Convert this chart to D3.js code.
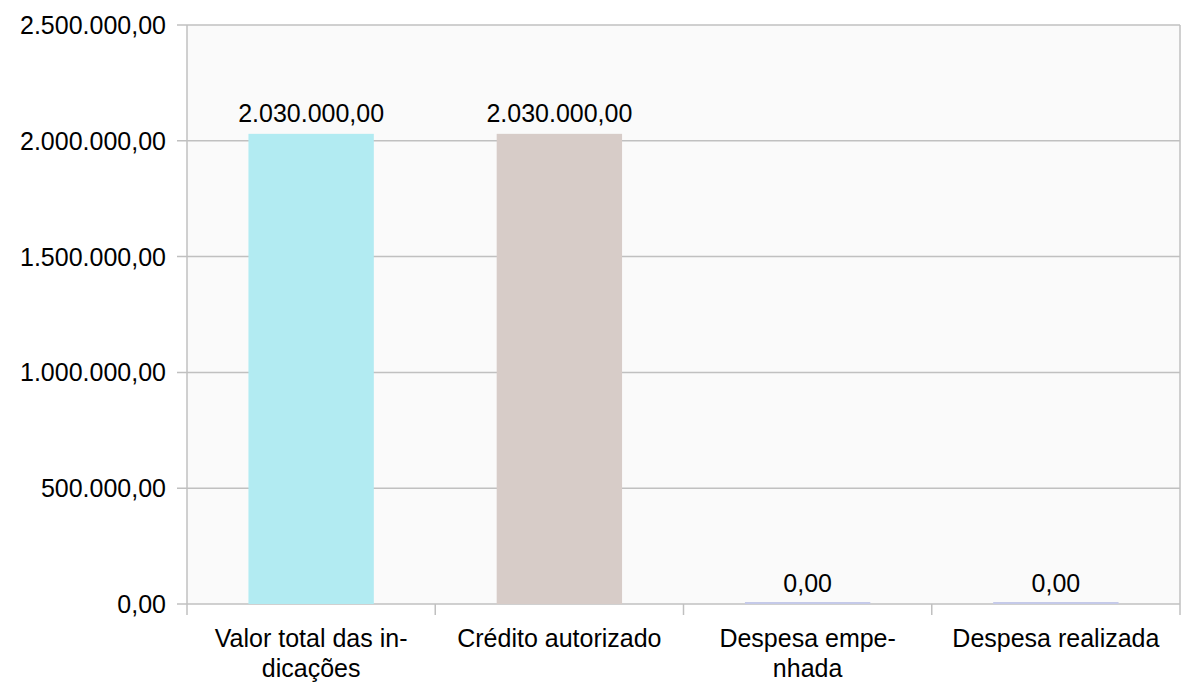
<!DOCTYPE html>
<html lang="pt">

<head>
    <meta charset="UTF-8">
    <title>bar chart</title>
    <script src="https://cdn.jsdelivr.net/npm/d3@7"></script>
    <style>
        body {
            margin: 0;
            background: #ffffff;
        }

        text {
            font-family: "Liberation Sans", Arial, sans-serif;
            fill: #000000;
        }
    </style>
</head>

<body>
    <svg id="chart" width="1183" height="684"></svg>

    <script>
        // data
        let categories = ["Valor total das indicações", "Crédito autorizado", "Despesa empenhada", "Despesa realizada"]
        let category_lines = [["Valor total das in-", "dicações"], ["Crédito autorizado"], ["Despesa empe-", "nhada"], ["Despesa realizada"]]
        let values = [2030000, 2030000, 0, 0]
        let y_ticks = [0, 500000, 1000000, 1500000, 2000000, 2500000]
        let bar_colors = ["#b2ebf2", "#d7ccc8", "#c5cae9", "#c5cae9"]

        let svg = d3.select("#chart")
        let margin = { top: 25, right: 3, bottom: 80, left: 187 }
        let W = 1183, H = 684
        let fontSize = 25

        // pt-BR style numbers: 2.030.000,00
        let fmt = function (v) {
            let s = d3.format(",.2f")(v)
            return s.replace(/,/g, "#").replace(".", ",").replace(/#/g, ".")
        }

        let x = d3.scaleBand()
            .domain(categories)
            .range([margin.left, W - margin.right])
            .paddingInner(0)
            .paddingOuter(0)

        let y = d3.scaleLinear()
            .domain([0, 2500000])
            .range([H - margin.bottom, margin.top])

        // plot background
        svg.append("rect")
            .attr("x", margin.left)
            .attr("y", margin.top)
            .attr("width", W - margin.right - margin.left)
            .attr("height", H - margin.bottom - margin.top)
            .attr("fill", "#fafafa")

        // grid lines + y tick marks
        svg.append("g")
            .selectAll("line")
            .data(y_ticks)
            .join("line")
            .attr("x1", margin.left - 10)
            .attr("x2", W - margin.right)
            .attr("y1", d => y(d))
            .attr("y2", d => y(d))
            .attr("stroke", "#c0c0c0")
            .attr("stroke-width", 1.5)

        // y labels
        svg.append("g")
            .selectAll("text")
            .data(y_ticks)
            .join("text")
            .attr("x", margin.left - 21)
            .attr("y", d => y(d))
            .attr("dy", "0.36em")
            .attr("text-anchor", "end")
            .attr("font-size", fontSize)
            .text(d => fmt(d))

        // left and right borders
        let xEdges = [margin.left, W - margin.right]
        svg.append("g")
            .selectAll("line")
            .data(xEdges)
            .join("line")
            .attr("x1", d => d)
            .attr("x2", d => d)
            .attr("y1", margin.top)
            .attr("y2", H - margin.bottom)
            .attr("stroke", "#c0c0c0")
            .attr("stroke-width", 1.5)

        // category tick marks (between bands)
        let bounds = categories.map(c => x(c)).concat([W - margin.right])
        svg.append("g")
            .selectAll("line")
            .data(bounds)
            .join("line")
            .attr("x1", d => d)
            .attr("x2", d => d)
            .attr("y1", H - margin.bottom)
            .attr("y2", H - margin.bottom + 11)
            .attr("stroke", "#c0c0c0")
            .attr("stroke-width", 1.5)

        // bars
        let bw = x.bandwidth() * 0.505
        let bars = svg.append("g")
        bars.selectAll("rect")
            .data(values)
            .join("rect")
            .attr("x", (d, i) => x(categories[i]) + (x.bandwidth() - bw) / 2)
            .attr("width", bw)
            .attr("y", d => d > 0 ? y(d) : y(0) - 2)
            .attr("height", d => d > 0 ? y(0) - y(d) : 2)
            .attr("fill", (d, i) => bar_colors[i])

        // value labels
        svg.append("g")
            .selectAll("text")
            .data(values)
            .join("text")
            .attr("x", (d, i) => x(categories[i]) + x.bandwidth() / 2)
            .attr("y", d => y(d) - 12)
            .attr("text-anchor", "middle")
            .attr("font-size", fontSize)
            .text(d => fmt(d))

        // category labels
        let lab = svg.append("g")
            .selectAll("text")
            .data(categories)
            .join("text")
            .attr("x", d => x(d) + x.bandwidth() / 2)
            .attr("y", H - margin.bottom + 43)
            .attr("text-anchor", "middle")
            .attr("font-size", fontSize)
        lab.selectAll("tspan")
            .data((d, i) => category_lines[i])
            .join("tspan")
            .attr("x", function () { return d3.select(this.parentNode).attr("x") })
            .attr("dy", (d, i) => i === 0 ? 0 : 30)
            .text(d => d)
    </script>
</body>

</html>
